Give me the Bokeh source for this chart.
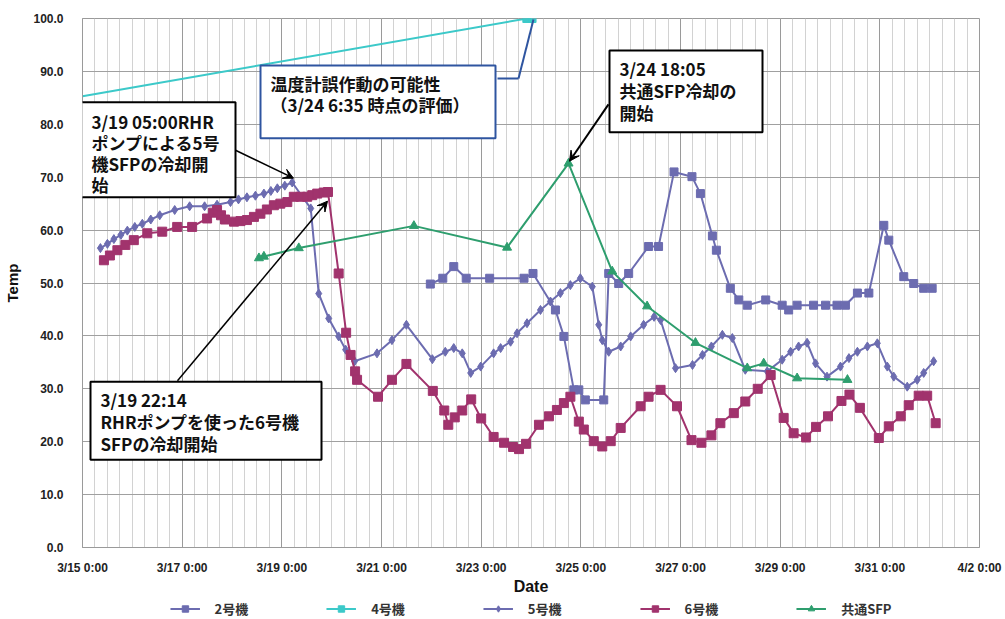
from datetime import datetime, timedelta

import pandas as pd
from bokeh.embed import file_html
from bokeh.layouts import column
from bokeh.resources import INLINE
from bokeh.plotting import figure
from bokeh.models import (FixedTicker, CustomJSTickFormatter, PrintfTickFormatter,
                          BoxAnnotation, Label, Arrow, VeeHead, Legend, LegendItem, Range1d)

# ---- spent fuel pool temperatures (deg C) ----
unit2_time = ["2011-03-21 23:31", "2011-03-22 05:31", "2011-03-22 10:48", "2011-03-22 16:48",
              "2011-03-23 04:05", "2011-03-23 20:38", "2011-03-24 00:58", "2011-03-24 11:46",
              "2011-03-24 15:50", "2011-03-24 20:38", "2011-03-24 23:02", "2011-03-25 02:10",
              "2011-03-25 11:02", "2011-03-25 13:26", "2011-03-25 18:14", "2011-03-25 23:02",
              "2011-03-26 08:38", "2011-03-26 13:26", "2011-03-26 20:53", "2011-03-27 05:31",
              "2011-03-27 09:36", "2011-03-27 15:22", "2011-03-27 17:17", "2011-03-28 00:00",
              "2011-03-28 04:05", "2011-03-28 08:10", "2011-03-28 17:02", "2011-03-29 00:58",
              "2011-03-29 04:05", "2011-03-29 08:10", "2011-03-29 16:05", "2011-03-29 21:50",
              "2011-03-30 03:22", "2011-03-30 07:26", "2011-03-30 13:12", "2011-03-30 18:43",
              "2011-03-31 01:55", "2011-03-31 04:19", "2011-03-31 11:31", "2011-03-31 16:19",
              "2011-03-31 21:07", "2011-04-01 01:12"]
unit2_temp = [49.8, 50.9, 53.1, 50.9, 50.9, 50.9, 51.8, 44.9, 39.9, 29.8, 29.8, 27.9,
              27.9, 51.8, 49.9, 51.8, 56.9, 56.9, 71.0, 70.1, 66.9, 58.9, 56.2, 49.0,
              46.8, 45.8, 46.8, 45.8, 44.9, 45.8, 45.8, 45.8, 45.8, 45.8, 48.1, 48.1,
              60.9, 58.1, 51.2, 49.9, 49.0, 49.0]

unit4_time = ["2011-03-15 00:00", "2011-03-23 22:00", "2011-03-24 00:30"]
unit4_temp = [85.3, 100.0, 100.0]

unit5_time = ["2011-03-15 08:38", "2011-03-15 12:00", "2011-03-15 15:07", "2011-03-15 18:29",
              "2011-03-15 21:36", "2011-03-16 01:12", "2011-03-16 04:48", "2011-03-16 08:53",
              "2011-03-16 13:12", "2011-03-16 20:24", "2011-03-17 03:36", "2011-03-17 10:48",
              "2011-03-17 16:48", "2011-03-17 23:17", "2011-03-18 03:07", "2011-03-18 07:12",
              "2011-03-18 11:17", "2011-03-18 15:22", "2011-03-18 18:43", "2011-03-18 21:50",
              "2011-03-19 01:26", "2011-03-19 05:00", "2011-03-19 13:55", "2011-03-19 17:46",
              "2011-03-19 22:34", "2011-03-20 03:22", "2011-03-20 06:43", "2011-03-20 11:02",
              "2011-03-20 21:50", "2011-03-21 05:02", "2011-03-21 12:00", "2011-03-22 00:29",
              "2011-03-22 06:43", "2011-03-22 10:48", "2011-03-22 14:53", "2011-03-22 18:58",
              "2011-03-22 23:46", "2011-03-23 06:00", "2011-03-23 09:22", "2011-03-23 14:10",
              "2011-03-23 17:17", "2011-03-23 22:05", "2011-03-24 04:34", "2011-03-24 09:22",
              "2011-03-24 14:10", "2011-03-24 18:58", "2011-03-24 23:46", "2011-03-25 05:31",
              "2011-03-25 08:38", "2011-03-25 10:19", "2011-03-25 13:26", "2011-03-25 19:12",
              "2011-03-26 00:00", "2011-03-26 06:14", "2011-03-26 11:17", "2011-03-26 14:24",
              "2011-03-26 21:36", "2011-03-27 05:46", "2011-03-27 10:34", "2011-03-27 14:53",
              "2011-03-27 20:10", "2011-03-28 00:58", "2011-03-28 07:12", "2011-03-28 17:46",
              "2011-03-29 00:58", "2011-03-29 05:02", "2011-03-29 08:53", "2011-03-29 12:58",
              "2011-03-29 17:02", "2011-03-29 22:34", "2011-03-30 05:02", "2011-03-30 09:07",
              "2011-03-30 13:12", "2011-03-30 18:00", "2011-03-30 22:48", "2011-03-31 03:36",
              "2011-03-31 06:43", "2011-03-31 13:12", "2011-03-31 18:00", "2011-03-31 21:07",
              "2011-04-01 01:55"]
unit5_temp = [56.6, 57.4, 58.3, 59.1, 59.9, 60.6, 61.2, 62.0, 62.8, 63.8, 64.5, 64.5,
              64.8, 65.3, 65.8, 66.2, 66.5, 66.9, 67.4, 67.9, 68.4, 69.0, 64.1, 48.0,
              43.3, 39.9, 37.4, 35.2, 36.7, 39.2, 42.1, 35.6, 37.0, 37.7, 36.7, 33.0,
              34.2, 36.7, 37.7, 38.9, 40.5, 42.4, 44.9, 46.5, 48.1, 49.6, 50.9, 49.3,
              42.1, 39.2, 37.0, 38.0, 39.9, 42.1, 43.6, 43.0, 33.9, 34.5, 36.4, 38.0,
              40.2, 39.6, 33.6, 33.3, 35.5, 37.0, 38.0, 38.7, 34.8, 32.3, 34.2, 35.8,
              37.0, 38.0, 38.6, 34.2, 32.3, 30.4, 31.7, 33.0, 35.2]

unit6_time = ["2011-03-15 10:19", "2011-03-15 13:12", "2011-03-15 16:48", "2011-03-15 20:38",
              "2011-03-16 00:43", "2011-03-16 07:12", "2011-03-16 14:24", "2011-03-16 21:36",
              "2011-03-17 04:48", "2011-03-17 12:00", "2011-03-17 14:53", "2011-03-17 16:48",
              "2011-03-17 18:43", "2011-03-17 20:38", "2011-03-18 00:58", "2011-03-18 04:05",
              "2011-03-18 07:12", "2011-03-18 10:34", "2011-03-18 13:41", "2011-03-18 16:48",
              "2011-03-18 20:10", "2011-03-18 23:17", "2011-03-19 02:38", "2011-03-19 05:46",
              "2011-03-19 09:07", "2011-03-19 12:14", "2011-03-19 14:38", "2011-03-19 17:02",
              "2011-03-19 20:10", "2011-03-19 22:14", "2011-03-20 03:22", "2011-03-20 06:58",
              "2011-03-20 09:07", "2011-03-20 11:17", "2011-03-20 12:14", "2011-03-20 22:19",
              "2011-03-21 05:02", "2011-03-21 12:00", "2011-03-22 00:43", "2011-03-22 06:14",
              "2011-03-22 08:10", "2011-03-22 11:17", "2011-03-22 14:53", "2011-03-22 19:12",
              "2011-03-23 00:00", "2011-03-23 06:00", "2011-03-23 11:02", "2011-03-23 15:22",
              "2011-03-23 18:14", "2011-03-23 21:36", "2011-03-24 03:50", "2011-03-24 08:38",
              "2011-03-24 12:29", "2011-03-24 15:50", "2011-03-24 18:58", "2011-03-24 23:02",
              "2011-03-25 01:26", "2011-03-25 06:14", "2011-03-25 10:19", "2011-03-25 14:24",
              "2011-03-25 19:12", "2011-03-26 04:48", "2011-03-26 08:38", "2011-03-26 14:24",
              "2011-03-26 22:19", "2011-03-27 05:17", "2011-03-27 10:05", "2011-03-27 14:53",
              "2011-03-27 19:12", "2011-03-28 01:41", "2011-03-28 07:12", "2011-03-28 13:12",
              "2011-03-28 19:26", "2011-03-29 01:41", "2011-03-29 06:29", "2011-03-29 12:29",
              "2011-03-29 17:17", "2011-03-29 23:02", "2011-03-30 05:31", "2011-03-30 09:22",
              "2011-03-30 14:24", "2011-03-30 23:31", "2011-03-31 04:19", "2011-03-31 10:05",
              "2011-03-31 13:55", "2011-03-31 18:43", "2011-03-31 22:48", "2011-04-01 02:53"]
unit6_temp = [54.3, 55.2, 56.2, 57.2, 58.1, 59.4, 59.7, 60.6, 60.6, 62.2, 63.3, 63.8,
              62.8, 62.0, 61.6, 61.7, 61.9, 62.5, 63.1, 63.9, 64.7, 65.0, 65.3, 66.3,
              66.3, 66.3, 66.6, 66.9, 67.1, 67.2, 51.8, 40.6, 36.4, 33.3, 31.7, 28.5,
              31.7, 34.7, 29.6, 25.9, 23.2, 24.6, 25.9, 28.0, 24.4, 20.9, 19.8, 19.0,
              18.6, 19.6, 23.2, 24.8, 26.0, 27.3, 28.5, 23.8, 22.3, 20.1, 19.1, 20.1,
              22.6, 26.7, 28.5, 29.8, 26.7, 20.3, 19.8, 21.2, 23.5, 25.4, 27.6, 30.0,
              32.6, 24.5, 21.6, 20.8, 22.8, 24.8, 27.7, 28.9, 26.4, 20.7, 22.9, 24.8,
              26.9, 28.7, 28.7, 23.5]

common_time = ["2011-03-18 12:58", "2011-03-18 15:22", "2011-03-19 08:10", "2011-03-21 15:36",
               "2011-03-23 12:29", "2011-03-24 18:05", "2011-03-25 15:07", "2011-03-26 07:55",
               "2011-03-27 07:12", "2011-03-28 08:10", "2011-03-28 16:05", "2011-03-29 08:10",
               "2011-03-30 08:24"]
common_temp = [54.7, 55.0, 56.6, 60.8, 56.7, 72.6, 52.2, 45.6, 38.7, 33.9, 34.8, 32.0, 31.7]

series_names = ["2号機", "4号機", "5号機", "6号機", "共通SFP"]
x_tick_dates = ["2011-03-15", "2011-03-17", "2011-03-19", "2011-03-21", "2011-03-23",
                "2011-03-25", "2011-03-27", "2011-03-29", "2011-03-31", "2011-04-02"]
y_ticks = [0, 10, 20, 30, 40, 50, 60, 70, 80, 90, 100]

C_BLUE = "#6C6CB0"
C_CYAN = "#3CC9C9"
C_PLUM = "#A1336D"
C_GREEN = "#2E9E6E"
JP = "Noto Sans CJK JP"
LAT = "Liberation Sans"

# marker style per series: (marker, size, colour)
STYLE = {
    "2号機": ("square", 8, C_BLUE),
    "4号機": ("square", 8, C_CYAN),
    "5号機": ("diamond", 9, C_BLUE),
    "6号機": ("square", 9, C_PLUM),
    "共通SFP": ("triangle", 9, C_GREEN),
}

EPOCH = datetime(1970, 1, 1)


def ms(dt):
    return (dt - EPOCH).total_seconds() * 1000.0


T0 = datetime(2011, 3, 15)
T1 = datetime(2011, 4, 2)

p = figure(width=1005, height=597, x_axis_type="datetime", output_backend="svg",
           toolbar_location=None, x_range=Range1d(T0, T1), y_range=Range1d(0, 100),
           min_border_left=82, min_border_right=26, min_border_top=18, min_border_bottom=49,
           background_fill_color="white", border_fill_color="white")

# frame-pixel helpers used for placing the callout boxes
FRAME_L, FRAME_B, PX_PER_DAY, PX_PER_DEG = 82, 548, 897 / 18, 530 / 100


def ax(px):
    return ms(T0 + timedelta(days=(px - FRAME_L) / PX_PER_DAY))


def ay(py):
    return (FRAME_B - py) / PX_PER_DEG


# ---- axes / grid ----
major_ms = [ms(pd.Timestamp(d).to_pydatetime()) for d in x_tick_dates]
minor_ms = [ms(T0 + timedelta(hours=6 * i)) for i in range(18 * 4 + 1)]
p.xaxis.ticker = FixedTicker(ticks=major_ms, minor_ticks=minor_ms)
p.xaxis.formatter = CustomJSTickFormatter(code="""
    const d = new Date(tick);
    return (d.getUTCMonth() + 1) + "/" + d.getUTCDate() + " " + d.getUTCHours() + ":" +
           String(d.getUTCMinutes()).padStart(2, "0");
""")
p.yaxis.ticker = FixedTicker(ticks=y_ticks)
p.yaxis.formatter = PrintfTickFormatter(format="%.1f")

for axis in (p.xaxis, p.yaxis):
    axis.major_tick_line_color = None
    axis.minor_tick_line_color = None
    axis.axis_line_color = "#9a9a9a"
    axis.major_label_text_font = LAT
    axis.major_label_text_font_style = "bold"
    axis.major_label_text_font_size = "12px"
    axis.major_label_text_color = "#222222"
    axis.axis_label_text_font = LAT
    axis.axis_label_text_font_style = "bold"
    axis.axis_label_text_color = "#111111"

p.xaxis.axis_label = "Date"
p.xaxis.axis_label_text_font_size = "16px"
p.xaxis.major_label_standoff = 7
p.xaxis.axis_label_standoff = 0
p.yaxis.axis_label = "Temp"
p.yaxis.axis_label_text_font_size = "15px"
p.yaxis.major_label_standoff = 13
p.yaxis.axis_label_standoff = 9

p.xgrid.grid_line_color = "#9a9a9a"
p.xgrid.minor_grid_line_color = "#d2d2d2"
p.ygrid.grid_line_color = "#a0a0a0"
p.outline_line_color = "#9a9a9a"

# ---- series ----
series = {
    "2号機": (pd.to_datetime(unit2_time), unit2_temp),
    "4号機": (pd.to_datetime(unit4_time), unit4_temp),
    "5号機": (pd.to_datetime(unit5_time), unit5_temp),
    "6号機": (pd.to_datetime(unit6_time), unit6_temp),
    "共通SFP": (pd.to_datetime(common_time), common_temp),
}
for name, (t, v) in series.items():
    marker, size, color = STYLE[name]
    p.line(t, v, line_color=color, line_width=2)
    if name == "4号機":
        # only the readings at the end of the run are marked
        p.scatter(t[1:], v[1:], marker=marker, size=size, color=color)
    else:
        p.scatter(t, v, marker=marker, size=size, color=color)


# ---- callouts ----
def callout(left, top, right, bottom, lines, tx, ty0, dy, edge="black"):
    p.add_layout(BoxAnnotation(left=ax(left), right=ax(right), top=ay(top), bottom=ay(bottom),
                               fill_color="white", fill_alpha=1, line_color=edge,
                               line_width=2, line_alpha=1))
    for i, txt in enumerate(lines):
        p.add_layout(Label(x=ax(tx), y=ay(ty0 + i * dy), text=txt, text_font=JP,
                           text_font_size="17px", text_font_style="bold",
                           text_color="#111111", text_baseline="middle", text_align="left"))


def pointer(x0, y0, x1, y1, head=True, color="black", width=1.5):
    p.add_layout(Arrow(x_start=ax(x0), y_start=ay(y0), x_end=ax(x1), y_end=ay(y1),
                       line_color=color, line_width=width,
                       end=VeeHead(size=10, fill_color=color, line_color=color) if head else None))


callout(80, 102, 235, 197, ["3/19 05:00RHR", "ポンプによる5号", "機SFPの冷却開", "始"],
        91, 121, 21)
pointer(235, 150, 293, 178)

callout(90, 382, 321, 460, ["3/19 22:14", "RHRポンプを使った6号機", "SFPの冷却開始"],
        100, 400, 22)
pointer(177, 381, 327, 201)

callout(609, 50, 762, 132, ["3/24 18:05", "共通SFP冷却の", "開始"], 619, 68, 22)
pointer(608, 104, 569, 161, width=2)

callout(260, 65, 495, 138, ["温度計誤作動の可能性", "（3/24 6:35 時点の評価）"],
        270, 83, 21, edge="#2F55A0")
pointer(497, 78, 518, 78, head=False, color="#2F55A0", width=2)
pointer(518, 78, 533, 19, head=False, color="#2F55A0", width=2)

# ---- legend strip under the chart ----
# the strip's ranges keep its copies of the series out of view; only the legend shows
leg = figure(width=1005, height=22, output_backend="svg", toolbar_location=None,
             x_range=Range1d(0, 1), y_range=Range1d(0, 1),
             min_border_left=68, min_border_right=0, min_border_top=0, min_border_bottom=0,
             background_fill_color="white", border_fill_color="white")
leg.axis.visible = False
leg.grid.visible = False
leg.outline_line_color = None
items = []
for name in series_names:
    marker, size, color = STYLE[name]
    t, v = series[name]
    rl = leg.line(t, v, line_color=color, line_width=2)
    rm = leg.scatter(t, v, marker=marker, size=size, color=color)
    items.append(LegendItem(label=name, renderers=[rl, rm]))
leg.add_layout(Legend(items=items, orientation="horizontal", location="center", spacing=78,
                      glyph_width=30, glyph_height=16, label_standoff=15,
                      label_text_font=JP, label_text_font_size="13px",
                      label_text_font_style="bold", label_text_color="#333333",
                      border_line_color=None, background_fill_alpha=0, padding=2, margin=0))

open("out.html", "w").write(file_html(column(p, leg, spacing=0), INLINE))
